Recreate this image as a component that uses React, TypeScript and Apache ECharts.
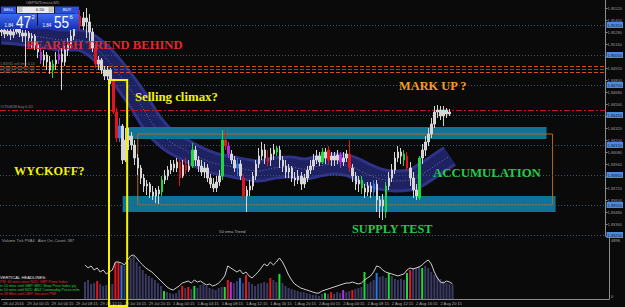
import React, { useEffect, useRef } from "react";
import * as echarts from "echarts";

const SYMBOL = "GBPNZDmicro,M5";
const BAR_MINUTES = 30;
const SLOT_COUNT = 203;
const SESSIONS = [
  { day: "28 Jul", firstMinute: 20 * 60 + 15, bars: 8 },
  { day: "29 Jul", firstMinute: 15, bars: 48 },
  { day: "1 Aug", firstMinute: 15, bars: 48 },
  { day: "2 Aug", firstMinute: 15, bars: 48 },
  { day: "3 Aug", firstMinute: 15, bars: 48 },
];

// [open, close, low, high]
const CANDLES: number[][] = [
  [1.8528, 1.853, 1.8524, 1.8534], [1.853, 1.8526, 1.8522, 1.8532], [1.8526, 1.8529, 1.8524, 1.8533],
  [1.8529, 1.8525, 1.852, 1.8531], [1.8525, 1.8528, 1.8522, 1.8532], [1.8528, 1.8531, 1.8526, 1.8534],
  [1.8531, 1.8527, 1.8523, 1.8533], [1.8527, 1.8524, 1.8518, 1.853], [1.8524, 1.8527, 1.8494, 1.853],
  [1.8527, 1.8522, 1.8516, 1.8529], [1.8522, 1.8524, 1.8512, 1.8527], [1.8524, 1.8515, 1.851, 1.8526],
  [1.8515, 1.8508, 1.8502, 1.8518], [1.8508, 1.85, 1.8496, 1.8512], [1.85, 1.8505, 1.8494, 1.851],
  [1.8505, 1.8498, 1.849, 1.8508], [1.8498, 1.849, 1.8486, 1.8504], [1.849, 1.8496, 1.8482, 1.85],
  [1.8496, 1.85, 1.849, 1.8508], [1.85, 1.8506, 1.8496, 1.851], [1.8506, 1.8498, 1.847, 1.8512],
  [1.8498, 1.851, 1.8494, 1.8514], [1.851, 1.8516, 1.8504, 1.8522], [1.8516, 1.8524, 1.8512, 1.853],
  [1.8524, 1.8532, 1.852, 1.8538], [1.8532, 1.8544, 1.853, 1.8548], [1.8544, 1.8534, 1.853, 1.855],
  [1.8534, 1.8542, 1.853, 1.8548], [1.8542, 1.8538, 1.8522, 1.8552], [1.8538, 1.8528, 1.8512, 1.8546],
  [1.8528, 1.8512, 1.8508, 1.8532], [1.8512, 1.8496, 1.8492, 1.8516], [1.8496, 1.85, 1.849, 1.8504],
  [1.85, 1.849, 1.8486, 1.8502], [1.849, 1.8484, 1.848, 1.8494], [1.8484, 1.849, 1.848, 1.8494],
  [1.849, 1.848, 1.8476, 1.8492], [1.848, 1.8448, 1.8446, 1.8482], [1.8448, 1.8422, 1.8418, 1.8452],
  [1.8422, 1.8434, 1.8418, 1.8442], [1.8434, 1.84, 1.8396, 1.8436], [1.84, 1.842, 1.8398, 1.8432],
  [1.842, 1.8424, 1.841, 1.8432], [1.8424, 1.8415, 1.841, 1.8428], [1.8415, 1.8402, 1.8395, 1.842],
  [1.8402, 1.8392, 1.8385, 1.8406], [1.8392, 1.8382, 1.8376, 1.8395], [1.8382, 1.8374, 1.8368, 1.8386],
  [1.8374, 1.8376, 1.8365, 1.838], [1.8376, 1.8368, 1.8362, 1.8378], [1.8368, 1.8364, 1.836, 1.8374],
  [1.8364, 1.837, 1.8357, 1.8372], [1.837, 1.8366, 1.8356, 1.8374], [1.8368, 1.838, 1.8364, 1.8384],
  [1.838, 1.8384, 1.8376, 1.839], [1.8384, 1.839, 1.838, 1.8394], [1.839, 1.8396, 1.8386, 1.84],
  [1.8396, 1.8392, 1.8388, 1.84], [1.8392, 1.8398, 1.8388, 1.8402], [1.8398, 1.8382, 1.8374, 1.84],
  [1.8384, 1.8395, 1.8382, 1.84], [1.8395, 1.839, 1.8386, 1.8402], [1.839, 1.8394, 1.8388, 1.84],
  [1.8394, 1.841, 1.8392, 1.8417], [1.841, 1.84, 1.8394, 1.8414], [1.84, 1.8394, 1.8388, 1.8404],
  [1.8394, 1.8388, 1.8384, 1.84], [1.8388, 1.8392, 1.8382, 1.8398], [1.8392, 1.8382, 1.8378, 1.8396],
  [1.8382, 1.8376, 1.8372, 1.8386], [1.8376, 1.8372, 1.8368, 1.8382], [1.8372, 1.8378, 1.8368, 1.8384],
  [1.8378, 1.8384, 1.8374, 1.839], [1.8384, 1.842, 1.838, 1.843], [1.842, 1.8414, 1.841, 1.843],
  [1.8414, 1.8406, 1.8402, 1.8418], [1.8406, 1.84, 1.8396, 1.841], [1.84, 1.8392, 1.8388, 1.8404],
  [1.8392, 1.8396, 1.8384, 1.8402], [1.8396, 1.8384, 1.838, 1.84], [1.8382, 1.8364, 1.836, 1.8386],
  [1.8364, 1.837, 1.8348, 1.8374], [1.837, 1.8374, 1.8364, 1.838], [1.8374, 1.8384, 1.837, 1.8388],
  [1.8384, 1.8396, 1.838, 1.84], [1.8396, 1.8404, 1.8392, 1.8412], [1.8404, 1.841, 1.84, 1.8418],
  [1.841, 1.8402, 1.8396, 1.8416], [1.8402, 1.8398, 1.8394, 1.841], [1.84, 1.8406, 1.8394, 1.8412],
  [1.8406, 1.841, 1.84, 1.8416], [1.8408, 1.8412, 1.8404, 1.8414], [1.841, 1.84, 1.8392, 1.8414],
  [1.84, 1.8394, 1.8388, 1.8404], [1.8394, 1.8388, 1.8382, 1.84], [1.8388, 1.8392, 1.8382, 1.8396],
  [1.8392, 1.8382, 1.8378, 1.8394], [1.8382, 1.838, 1.8374, 1.8388], [1.838, 1.8384, 1.8376, 1.839],
  [1.8384, 1.8376, 1.837, 1.8388], [1.8376, 1.8382, 1.8372, 1.8386], [1.8382, 1.839, 1.8378, 1.8394],
  [1.839, 1.8394, 1.8386, 1.84], [1.8394, 1.84, 1.839, 1.8406], [1.84, 1.8404, 1.8396, 1.841],
  [1.8404, 1.8398, 1.8394, 1.8408], [1.8398, 1.8408, 1.8396, 1.8412], [1.8408, 1.8402, 1.8396, 1.8412],
  [1.841, 1.84, 1.8396, 1.8414], [1.84, 1.8404, 1.8394, 1.8408], [1.8404, 1.84, 1.8394, 1.8408],
  [1.84, 1.8405, 1.8396, 1.841], [1.8405, 1.8398, 1.8392, 1.8408], [1.8398, 1.8402, 1.8394, 1.8408],
  [1.8402, 1.8406, 1.8398, 1.841], [1.8406, 1.8392, 1.8388, 1.842], [1.8392, 1.8384, 1.8378, 1.8396],
  [1.8384, 1.8376, 1.837, 1.8388], [1.8376, 1.838, 1.8368, 1.8384], [1.838, 1.8372, 1.8366, 1.8384],
  [1.8372, 1.8368, 1.8362, 1.8376], [1.8368, 1.8374, 1.8364, 1.8378], [1.8374, 1.8368, 1.8362, 1.8378],
  [1.8368, 1.8376, 1.8364, 1.838], [1.8376, 1.836, 1.8348, 1.838], [1.836, 1.8354, 1.8342, 1.8364],
  [1.8354, 1.836, 1.834, 1.8366], [1.8348, 1.8374, 1.8342, 1.8378], [1.8374, 1.8382, 1.837, 1.8388],
  [1.8382, 1.839, 1.8378, 1.8396], [1.839, 1.8402, 1.8386, 1.8408], [1.8402, 1.8408, 1.8398, 1.8414],
  [1.8408, 1.8404, 1.8396, 1.8412], [1.84, 1.8406, 1.8394, 1.841], [1.8404, 1.8392, 1.839, 1.8408],
  [1.8392, 1.8382, 1.8374, 1.8398], [1.8382, 1.837, 1.8362, 1.8388], [1.837, 1.8364, 1.836, 1.8376],
  [1.8362, 1.8402, 1.836, 1.8404], [1.8402, 1.841, 1.8396, 1.8416], [1.841, 1.8418, 1.8404, 1.8424],
  [1.8418, 1.8426, 1.8414, 1.8432], [1.8426, 1.8436, 1.8422, 1.8442], [1.8436, 1.8448, 1.8432, 1.8454],
  [1.8448, 1.845, 1.8442, 1.8455], [1.845, 1.8444, 1.844, 1.8454], [1.8444, 1.845, 1.8434, 1.8454],
  [1.845, 1.8446, 1.8442, 1.8452], [1.8446, 1.8448, 1.8444, 1.8451],
];

// PVA volume class per bar: n normal, r climax bear, g climax bull, b rising, p churn
const PVA_CLASS =
  "nnnnnnnnnn" + "nnnpnnngnp" + "nnnnnrrnnn" + "nrnnnnnrrb" + "nnnnnnnnnn" +
  "nnngnnnnnr" + "nrngnnnnnn" + "nnngrpnnbn" + "rnnnnnnnrn" + "ngnnnnnnnn" +
  "nnnnnngnrn" + "nnpnnrnnng" + "nnnbnnngnn" + "nnngrnnngn" + "nnnnnnnnn";

const VOLUME_START = 27;
const VOLUME = [
  1340, 1500, 1190, 1260, 1420, 1190, 1030, 1110, 950, 1190,
  2840, 2920, 2690, 2610, 2920, 3240, 3400, 2920, 2610, 2290,
  1980, 1820, 1660, 1500, 1260, 1030, 630, 550, 470, 400,
  470, 710, 1030, 870, 950, 790, 1030, 870, 1110, 1190,
  1030, 870, 790, 710, 870, 950, 950, 1500, 1340, 1260,
  1420, 1660, 1260, 1900, 1340, 1190, 1030, 1190, 1260, 1340,
  1260, 1660, 1500, 1340, 1980, 1260, 1030, 870, 790, 710,
  630, 550, 550, 470, 400, 320, 320, 240, 400, 470,
  400, 550, 400, 550, 470, 710, 550, 630, 710, 790,
  870, 950, 2130, 1190, 1340, 1500, 2050, 1740, 1820, 1660,
  2050, 1820, 1580, 1500, 1580, 1500, 2050, 2290, 2450, 2450,
  2610, 2450, 2610, 2450, 2130, 1900, 1740, 1580, 1420, 1260,
  1190, 1110,
];
const VOLUME_AVG = [
  2690, 2450, 2610, 2290, 2450, 2130, 2290, 1980, 2130, 2290,
  2920, 2920, 2840, 2690, 3080, 3400, 3480, 3240, 2920, 2690,
  2450, 2290, 2130, 1900, 1660, 1420, 1190, 950, 790, 710,
  870, 1030, 1260, 1340, 1420, 1260, 1500, 1340, 1420, 1260,
  1110, 1190, 1030, 1110, 1260, 1500, 1820, 2610, 2450, 2290,
  2130, 2290, 1980, 2130, 1820, 1660, 1900, 2130, 2450, 2770,
  2610, 2920, 2690, 2920, 3240, 2920, 2450, 1900, 1500, 1190,
  1030, 870, 790, 710, 630, 550, 470, 470, 630, 710,
  790, 870, 950, 1030, 1110, 1190, 1260, 1260, 1340, 1260,
  1190, 1260, 1500, 1660, 1820, 2130, 2610, 2530, 2290, 2130,
  2050, 1980, 1900, 1820, 1900, 1980, 2290, 2450, 2370, 2450,
  2530, 2690, 2920, 3080, 2770, 2130, 1660, 1340, 1260, 1420,
  1340, 1190,
];
const VOLUME_MAX = 4896;

// 50 EMA trend band: [bar index, price]
const EMA_50_KNOTS = [
  [0, 1.8527], [5, 1.8526], [10, 1.8524], [15, 1.8522], [20, 1.852], [25, 1.852],
  [30, 1.8514], [35, 1.85], [40, 1.8481], [45, 1.846], [50, 1.8436], [55, 1.842],
  [60, 1.8411], [65, 1.8403], [70, 1.8397], [75, 1.8394], [80, 1.8391], [85, 1.8389],
  [90, 1.8392], [95, 1.8393], [100, 1.8391], [105, 1.8394], [110, 1.8396], [115, 1.8394],
  [120, 1.8387], [125, 1.8381], [130, 1.8379], [135, 1.838], [140, 1.8388], [145, 1.8398],
  [148, 1.8404],
];

const ROUND_LEVELS = [1.8535, 1.8505, 1.8475, 1.8445, 1.8415, 1.8385, 1.8355, 1.8325];
const ORDER_LEVELS = [1.84935, 1.84905, 1.84875];
const STOP_LEVEL = 1.845;
// [firstBar, lastBar, top, bottom]
const RESISTANCE_ZONE = [41, 180, 1.8433, 1.8421];
const SUPPORT_ZONE = [40, 183, 1.8364, 1.8348];
const RANGE_BOX = [45, 182, 1.8426, 1.8355];
const CLIMAX_FIRST = 36;
const CLIMAX_LAST = 41;
const CLIMAX_TOP = 1.848;
const BID = ["1.84", "47", "2"];
const ASK = ["1.84", "55", "6"];

const PVA_COLORS: Record<string, string> = {
  r: "#e3141c",
  g: "#1fd83c",
  b: "#2a78e4",
  p: "#b22fe2",
};

const categories: string[] = [];
const tickText: string[] = [];
for (const s of SESSIONS) {
  for (let k = 0; k < s.bars && categories.length < SLOT_COUNT; k++) {
    const m = s.firstMinute + k * BAR_MINUTES;
    const hh = String(Math.floor(m / 60)).padStart(2, "0");
    const mm = String(m % 60).padStart(2, "0");
    const name = `${s.day} ${hh}:${mm}`;
    categories.push(name);
    const idx = categories.length - 1;
    let t = "";
    if (idx < CANDLES.length && m % 240 === 15) t = idx === 0 ? `${s.day} 2016` : name;
    tickText.push(t);
  }
}

const SANS = "'Liberation Sans', Arial, sans-serif";
const SERIF = "'Liberation Serif', 'Times New Roman', serif";

export default function App() {
  const ref = useRef<HTMLDivElement>(null);
  useEffect(() => {
    if (!ref.current) return;
    const chart = echarts.init(ref.current, null, { renderer: "svg" });

    const candleData = CANDLES.map((c, i) => {
      const cls = PVA_CLASS[i];
      const up = cls === "n" ? "#d6d6d6" : PVA_COLORS[cls];
      const down = cls === "n" ? "#7e7e7e" : PVA_COLORS[cls];
      return { value: c, itemStyle: { color: up, color0: down, borderColor: up, borderColor0: down } };
    });
    const volData: any[] = [];
    const volAvg: any[] = [];
    for (let i = 0; i < CANDLES.length; i++) {
      const k = i - VOLUME_START;
      if (k < 0) {
        volData.push(null);
        volAvg.push(null);
      } else {
        const cls = PVA_CLASS[i];
        volData.push({ value: VOLUME[k], itemStyle: { color: cls === "n" ? "#3a3a62" : PVA_COLORS[cls] } });
        volAvg.push(VOLUME_AVG[k]);
      }
    }

    const zone = (z: number[], style: any) => [
      { xAxis: z[0], yAxis: z[2], itemStyle: style },
      { xAxis: z[1], yAxis: z[3] },
    ];

    const markLines = [
      ...ROUND_LEVELS.map((v) => ({
        yAxis: v,
        lineStyle: { color: "#3a5673", type: [1, 2], width: 1 },
        label: {
          show: true,
          position: "end",
          distance: 1,
          formatter: () => v.toFixed(5),
          fontSize: 4,
          fontFamily: SANS,
          color: "#0d2240",
          backgroundColor: "#4b8ddc",
          padding: [1, 1],
        },
      })),
      ...ORDER_LEVELS.map((v, k) => ({
        yAxis: v,
        lineStyle: { color: k === 1 ? "#b03c0c" : "#d24f16", type: [4, 2], width: 1 },
        label: { show: false },
      })),
      {
        yAxis: STOP_LEVEL,
        lineStyle: { color: "#c4161e", type: [6, 2, 2, 2], width: 1 },
        label: { show: false },
      },
    ];

    const bandSeries = (name: string, lineStyle: any) => ({
      name,
      type: "line",
      xAxisIndex: 0,
      yAxisIndex: 0,
      data: EMA_50_KNOTS,
      smooth: 0.4,
      symbol: "none",
      silent: true,
      z: 0,
      lineStyle,
    });

    const option: any = {
      animation: false,
      backgroundColor: "#0a0a0a",
      grid: [
        { left: 0, right: 16, top: 0, height: 236 },
        { left: 0, right: 16, top: 237, height: 62 },
      ],
      xAxis: [
        { gridIndex: 0, type: "category", data: categories, boundaryGap: true, show: false },
        {
          gridIndex: 1,
          type: "category",
          data: categories,
          boundaryGap: true,
          axisLine: { lineStyle: { color: "#8c8c8c", width: 1 } },
          axisTick: { show: false },
          splitLine: { show: false },
          axisLabel: {
            interval: (i: number) => tickText[i] !== "",
            formatter: (_v: string, i: number) => tickText[i],
            fontSize: 4,
            fontFamily: SANS,
            color: "#a8a8a8",
            align: "left",
            margin: 2,
          },
        },
      ],
      yAxis: [
        {
          gridIndex: 0,
          type: "value",
          position: "right",
          min: 1.8324,
          max: 1.856,
          interval: 0.0012,
          axisLine: { show: true, lineStyle: { color: "#8c8c8c", width: 1 } },
          axisTick: { show: true, length: 2, lineStyle: { color: "#8c8c8c" } },
          splitLine: { show: false },
          axisLabel: {
            fontSize: 4,
            fontFamily: SANS,
            color: "#9c9c9c",
            margin: 2,
            showMaxLabel: false,
            formatter: (v: number) => v.toFixed(5),
          },
        },
        {
          gridIndex: 1,
          type: "value",
          position: "right",
          min: 0,
          max: VOLUME_MAX,
          interval: VOLUME_MAX,
          axisLine: { show: true, lineStyle: { color: "#8c8c8c", width: 1 } },
          axisTick: { show: false },
          splitLine: { show: false },
          axisLabel: { show: false },
        },
      ],
      series: [
        bandSeries("ema band edge", { width: 23, color: "#2e3388", cap: "butt", join: "round" }),
        bandSeries("ema band", { width: 17, color: "#1e2262", cap: "butt", join: "round" }),
        bandSeries("ema", { width: 1, color: "#6c73a8", type: [1, 2] }),
        {
          name: "price",
          type: "candlestick",
          xAxisIndex: 0,
          yAxisIndex: 0,
          data: candleData,
          barWidth: 2,
          z: 2,
          markArea: {
            silent: true,
            z: 1,
            data: [
              zone(RESISTANCE_ZONE, { color: "#0e7397" }),
              zone(SUPPORT_ZONE, { color: "#0e7397" }),
              zone(RANGE_BOX, { color: "rgba(0,0,0,0)", borderColor: "#b4662f", borderWidth: 1 }),
            ],
          },
          markLine: {
            silent: true,
            symbol: ["none", "none"],
            precision: 5,
            z: 1,
            data: markLines,
          },
        },
        {
          name: "volume",
          type: "bar",
          xAxisIndex: 1,
          yAxisIndex: 1,
          data: volData,
          barWidth: 2,
          silent: true,
        },
        {
          name: "volume average",
          type: "line",
          xAxisIndex: 1,
          yAxisIndex: 1,
          data: volAvg,
          symbol: "none",
          silent: true,
          lineStyle: { width: 1, color: "#cfcfcf" },
        },
      ],
    };
    chart.setOption(option);

    const px = (g: number, x: number, y: number) =>
      chart.convertToPixel({ gridIndex: g } as any, [x, y]) as number[];
    const l = (px(0, CLIMAX_FIRST - 1, CLIMAX_TOP)[0] + px(0, CLIMAX_FIRST, CLIMAX_TOP)[0]) / 2;
    const r = (px(0, CLIMAX_LAST, CLIMAX_TOP)[0] + px(0, CLIMAX_LAST + 1, CLIMAX_TOP)[0]) / 2;
    const t = px(0, CLIMAX_FIRST, CLIMAX_TOP)[1];
    const volBottom = px(1, 0, 0)[1];
    const volTop = px(1, 0, VOLUME_MAX)[1];
    const b = volBottom + 7;

    const grad = () =>
      new echarts.graphic.LinearGradient(0, 0, 0, 1, [
        { offset: 0, color: "#3f6cf2" },
        { offset: 1, color: "#1431b4" },
      ]);
    const txt = (text: string, x: number, y: number, fill: string, fontSize: number, extra: any = {}) => ({
      type: "text",
      x,
      y,
      z: 50,
      silent: true,
      ...(extra.el || {}),
      style: {
        text,
        fill,
        fontSize,
        fontFamily: SANS,
        verticalAlign: "middle",
        align: "left",
        ...(extra.style || {}),
      },
    });
    const note = (text: string, x: number, y: number, fill: string, fontSize: number) =>
      txt(text, x, y, fill, fontSize, { style: { fontFamily: SERIF, fontWeight: "bold" } });

    const elements: any[] = [
      {
        type: "rect",
        z: 40,
        silent: true,
        shape: { x: l, y: t, width: r - l, height: b - t },
        style: { fill: "none", stroke: "#f4f400", lineWidth: 2 },
      },
      txt(SYMBOL, 26, 2, "#9a9a9a", 4),
      { type: "rect", z: 50, shape: { x: 1, y: 6.5, width: 15, height: 6.5 }, style: { fill: "#2652da" } },
      txt("SELL", 8.5, 9.8, "#ffffff", 4.2, { style: { align: "center" } }),
      { type: "rect", z: 50, shape: { x: 17, y: 6.5, width: 37, height: 6.5 }, style: { fill: "#ececec" } },
      { type: "rect", z: 51, shape: { x: 17.5, y: 7, width: 5, height: 5.5 }, style: { fill: "#c6c6c6" } },
      { type: "rect", z: 51, shape: { x: 48.5, y: 7, width: 5, height: 5.5 }, style: { fill: "#c6c6c6" } },
      txt("-", 20, 9.6, "#222", 4.5, { style: { align: "center" } }),
      txt("+", 51, 9.6, "#222", 4.5, { style: { align: "center" } }),
      txt("0.50", 40, 9.8, "#111", 4.3, { style: { align: "center" } }),
      { type: "rect", z: 50, shape: { x: 55, y: 6.5, width: 24, height: 6.5 }, style: { fill: "#2652da" } },
      txt("BUY", 67, 9.8, "#ffffff", 4.2, { style: { align: "center" } }),
      { type: "rect", z: 50, shape: { x: 0, y: 13.5, width: 37, height: 15.5 }, style: { fill: grad() } },
      { type: "rect", z: 50, shape: { x: 38, y: 13.5, width: 41, height: 15.5 }, style: { fill: grad() } },
      txt(BID[0], 4.5, 25.2, "#ffffff", 4.5),
      txt(BID[1], 16, 22, "#ffffff", 17, { el: { scaleX: 0.8 } }),
      txt(BID[2], 31.5, 17, "#ffffff", 6),
      txt(ASK[0], 42.5, 25.2, "#ffffff", 4.5),
      txt(ASK[1], 54, 22, "#ffffff", 17, { el: { scaleX: 0.8 } }),
      txt(ASK[2], 69.5, 17, "#ffffff", 6),
      txt("1.84935 sell limit 0.10", 0, 64, "#7c7c7c", 3.6),
      txt("1.84905 sell limit 0.10", 0, 68, "#7c7c7c", 3.6),
      txt("1.84875 sell limit 0.10", 0, 72, "#7c7c7c", 3.6),
      txt("#1750658 buy 0.10", 0, 106.5, "#8a8a8a", 3.8),
      note("BEARISH TREND BEHIND", 26, 44.5, "#e5262c", 12.6),
      note("Selling climax?", 135, 96.5, "#f2f20c", 12.8),
      note("MARK UP ?", 399, 85.5, "#f39a2c", 12.4),
      note("WYCKOFF?", 14, 170.5, "#f2f20c", 12.3),
      note("ACCUMULATION", 433, 173, "#27c84a", 12.8),
      note("SUPPLY TEST", 352, 228.5, "#27c84a", 12.3),
      txt("50 ema Trend", 219, 231.5, "#b4b4b4", 4.3),
      txt("Volume Tick PVA4   Alert On, Count: 387", 2, volTop + 3.5, "#a0a0a0", 4),
      txt(String(VOLUME_MAX), 611, volTop + 3, "#a8a8a8", 4),
      txt("0", 611, volBottom - 2.5, "#a8a8a8", 4),
      txt("VERTICAL HEADLINES:", 0, 277.5, "#e8e8e8", 4.2),
      txt("PM: 60 mins since NZD: GBP Prime Index", 0, 282, "#e3262c", 3.6),
      txt("in 10 mins until GBP: BRC Shop Price Index y/y", 0, 286, "#2bcf45", 3.6),
      txt("in 10 mins until NZD: ANZ Commodity Prices m/m", 0, 290, "#2bcf45", 3.6),
      txt("in 28 Mins until GBP: Services PMI", 0, 294, "#e3262c", 3.6),
    ];
    chart.setOption({ graphic: { elements } });

    return () => chart.dispose();
  }, []);

  return (
    <div
      ref={ref}
      style={{ position: "fixed", left: 0, top: 0, width: 625, height: 307, background: "#0a0a0a" }}
    />
  );
}
